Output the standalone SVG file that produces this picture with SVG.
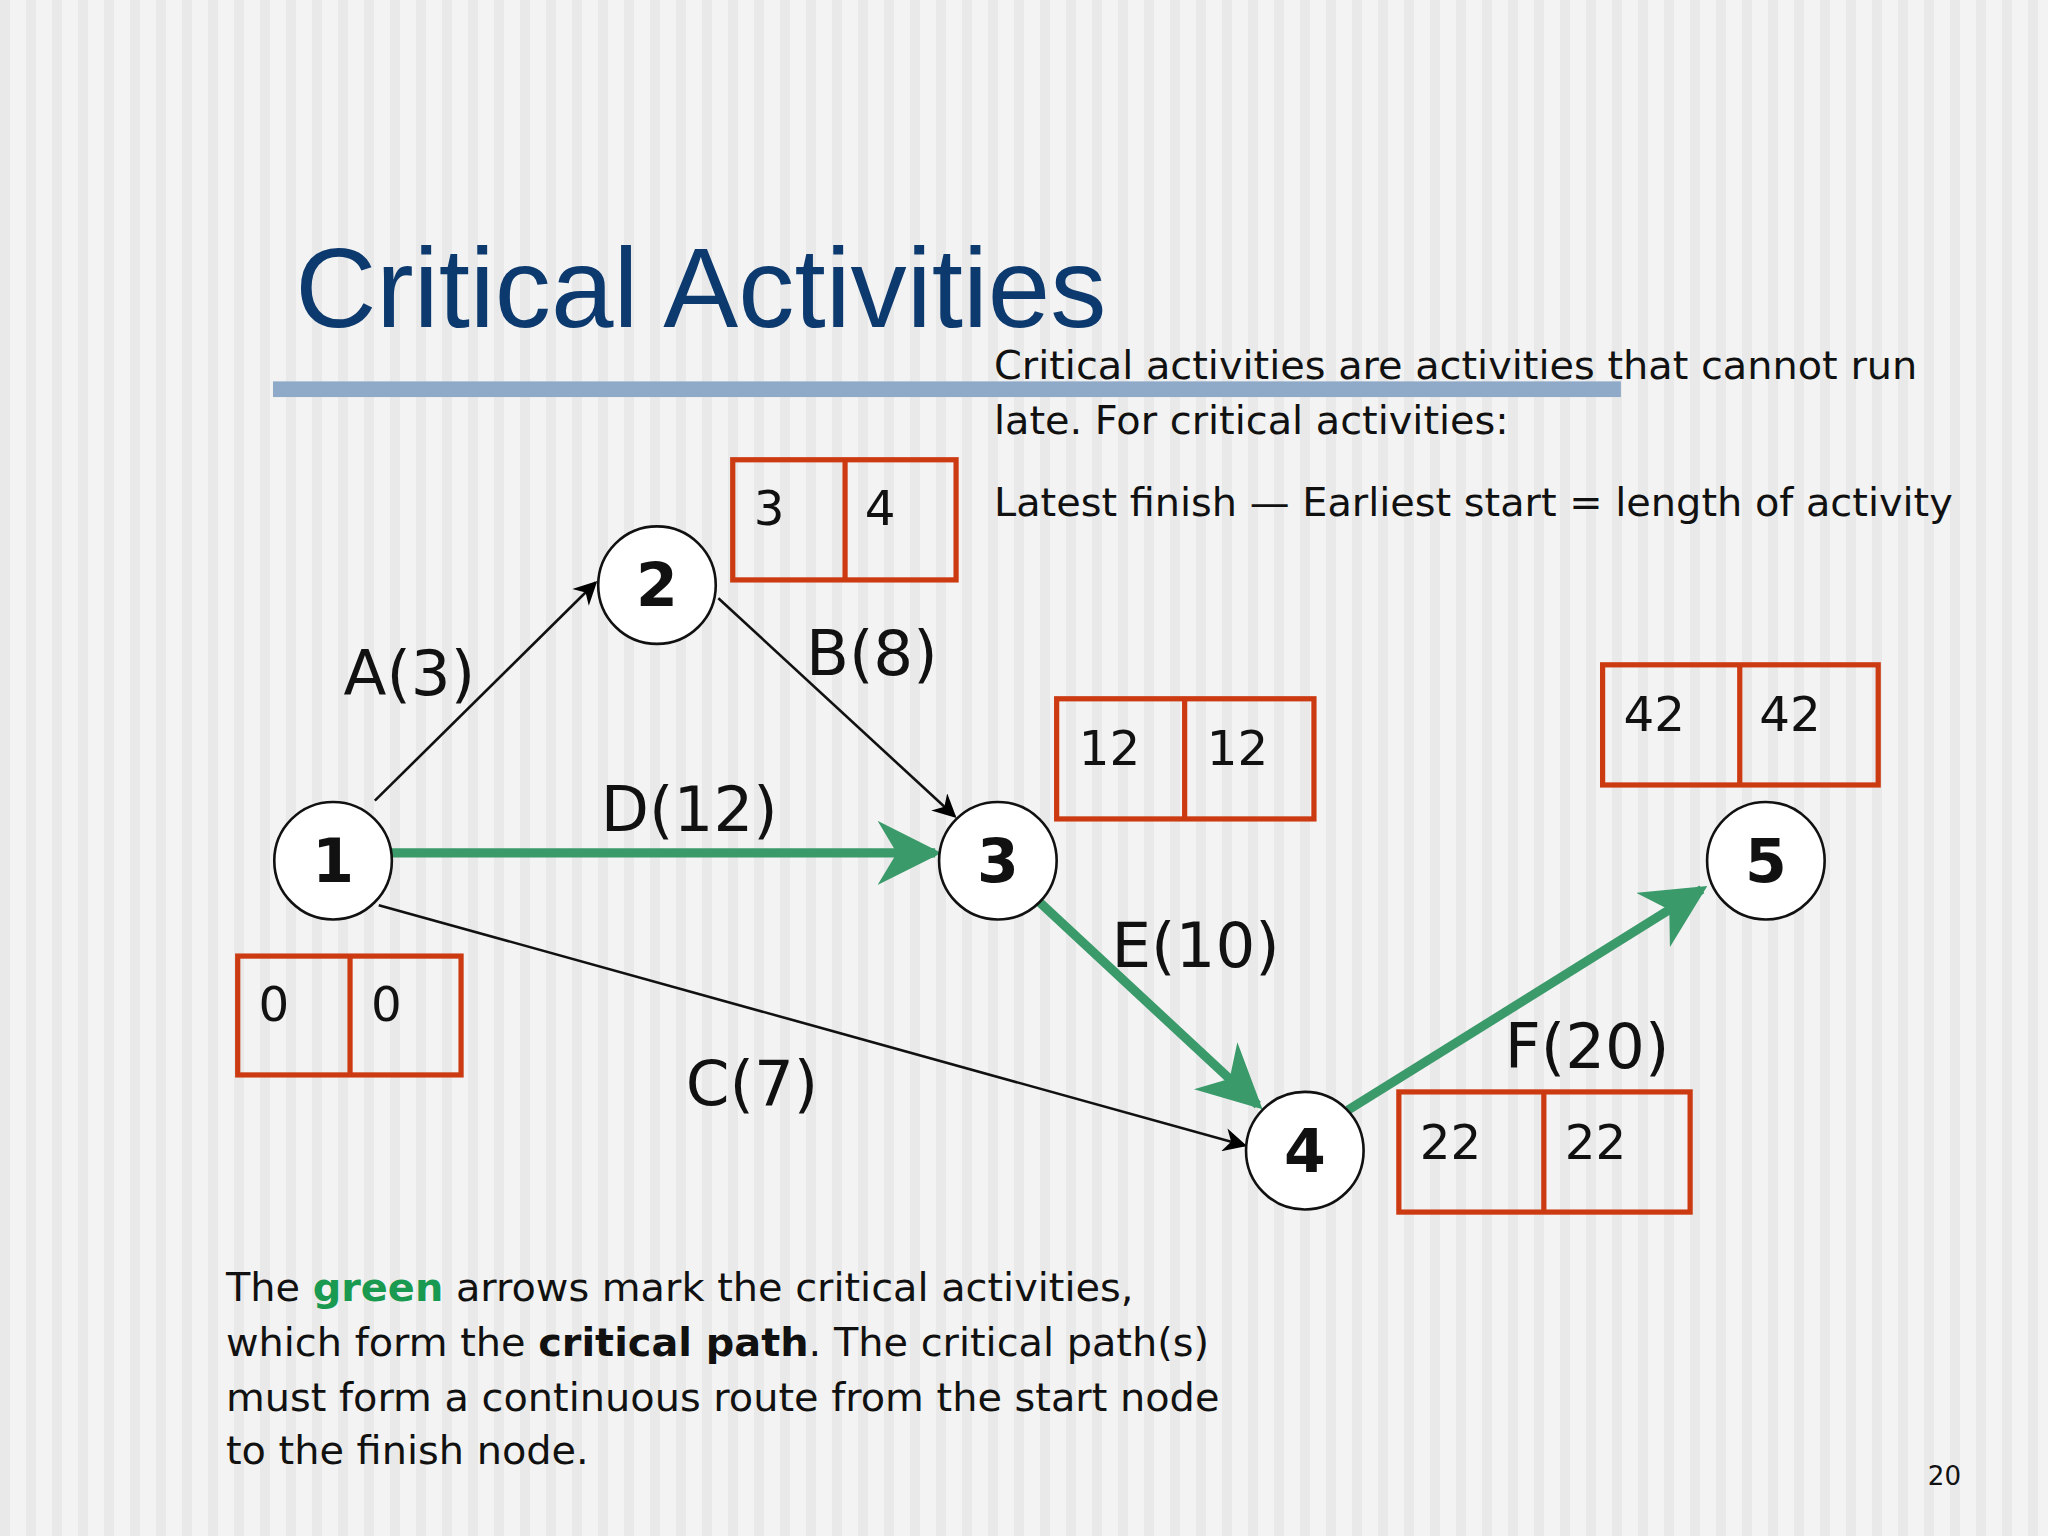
<svg xmlns="http://www.w3.org/2000/svg" width="2048" height="1536" viewBox="0 0 2048 1536">
<defs>
<pattern id="st" width="26" height="10" patternUnits="userSpaceOnUse"><rect width="26" height="10" fill="#f3f3f3"/><rect width="10" height="10" fill="#e9e9e9"/></pattern>
<marker id="ab" viewBox="0 0 10 10" refX="9" refY="5" markerWidth="22" markerHeight="18" markerUnits="userSpaceOnUse" orient="auto"><path d="M0,0 L10,5 L0,10 L3,5 z" fill="#000"/></marker>
<marker id="ag" viewBox="0 0 10 10" refX="9" refY="5" markerWidth="7" markerHeight="7" orient="auto"><path d="M0,0 L10,5 L0,10 L3,5 z" fill="#3a9a6a"/></marker>
<style>
.t{font-family:"DejaVu Sans",Verdana,sans-serif;fill:#111}
.c{fill:#fff;stroke:#111;stroke-width:2}
.n{font-family:"DejaVu Sans",Verdana,sans-serif;font-weight:bold;font-size:46px;text-anchor:middle;fill:#111}
.b{fill:none;stroke:#cc3a12;stroke-width:4}
.bt{font-family:"DejaVu Sans",Verdana,sans-serif;font-size:37px;fill:#111}
.l{font-family:"DejaVu Sans",Verdana,sans-serif;font-size:48px;fill:#111}
.k{stroke:#111;stroke-width:2;fill:none;marker-end:url(#ab)}
.g{stroke:#3a9a6a;stroke-width:7;fill:none;marker-end:url(#ag)}
</style>
</defs>
<rect width="2048" height="1536" fill="url(#st)"/>
<g transform="scale(1.30612)">
<text x="226" y="250" font-family="Liberation Sans,Arial,sans-serif" font-size="86" fill="#0d3a6e">Critical Activities</text>
<rect x="209" y="292" width="1032" height="12" fill="#8fa9c8"/>
<g class="t" font-size="30.5">
<text x="761" y="290">Critical activities are activities that cannot run</text>
<text x="761" y="332">late. For critical activities:</text>
<text x="761" y="395">Latest finish — Earliest start = length of activity</text>
</g>
<g id="connectors">
<line class="k" x1="287" y1="613" x2="456" y2="446"/>
<line class="k" x1="550" y1="458" x2="731" y2="625"/>
<line class="k" x1="290" y1="693" x2="953" y2="877"/>
<line class="g" x1="300" y1="653" x2="716" y2="653"/>
<line class="g" x1="795" y1="690" x2="963" y2="846"/>
<line class="g" x1="1032" y1="850" x2="1303" y2="681"/>
<text class="l" x="263" y="532">A(3)</text>
<text class="l" x="617" y="517">B(8)</text>
<text class="l" x="460" y="636">D(12)</text>
<text class="l" x="525" y="846">C(7)</text>
<text class="l" x="851" y="740">E(10)</text>
<text class="l" x="1152" y="818">F(20)</text>
</g>
<g id="n1"><circle class="c" cx="255" cy="659" r="45"/><text class="n" x="255" y="675">1</text>
<rect class="b" x="182" y="732" width="171" height="91"/><line class="b" x1="268" y1="732" x2="268" y2="823"/>
<text class="bt" x="198" y="782">0</text><text class="bt" x="284" y="782">0</text></g>
<g id="n2"><circle class="c" cx="503" cy="448" r="45"/><text class="n" x="503" y="464">2</text>
<rect class="b" x="561" y="352" width="171" height="92"/><line class="b" x1="647" y1="352" x2="647" y2="444"/>
<text class="bt" x="577" y="402">3</text><text class="bt" x="662" y="402">4</text></g>
<g id="n3"><circle class="c" cx="764" cy="659" r="45"/><text class="n" x="764" y="675">3</text>
<rect class="b" x="809" y="535" width="197" height="92"/><line class="b" x1="907" y1="535" x2="907" y2="627"/>
<text class="bt" x="826" y="586">12</text><text class="bt" x="924" y="586">12</text></g>
<g id="n4"><circle class="c" cx="999" cy="881" r="45"/><text class="n" x="999" y="897">4</text>
<rect class="b" x="1071" y="836" width="223" height="92"/><line class="b" x1="1182" y1="836" x2="1182" y2="928"/>
<text class="bt" x="1087" y="887">22</text><text class="bt" x="1198" y="887">22</text></g>
<g id="n5"><circle class="c" cx="1352" cy="659" r="45"/><text class="n" x="1352" y="675">5</text>
<rect class="b" x="1227" y="509" width="211" height="92"/><line class="b" x1="1332" y1="509" x2="1332" y2="601"/>
<text class="bt" x="1243" y="560">42</text><text class="bt" x="1347" y="560">42</text></g>
<g class="t" font-size="30.5">
<text x="173" y="996">The <tspan font-weight="bold" fill="#1a9a50">green</tspan> arrows mark the critical activities,</text>
<text x="173" y="1038">which form the <tspan font-weight="bold">critical path</tspan>. The critical path(s)</text>
<text x="173" y="1080">must form a continuous route from the start node</text>
<text x="173" y="1121">to the finish node.</text>
</g>
<text class="t" x="1476" y="1137" font-size="20">20</text>
</g>
</svg>
